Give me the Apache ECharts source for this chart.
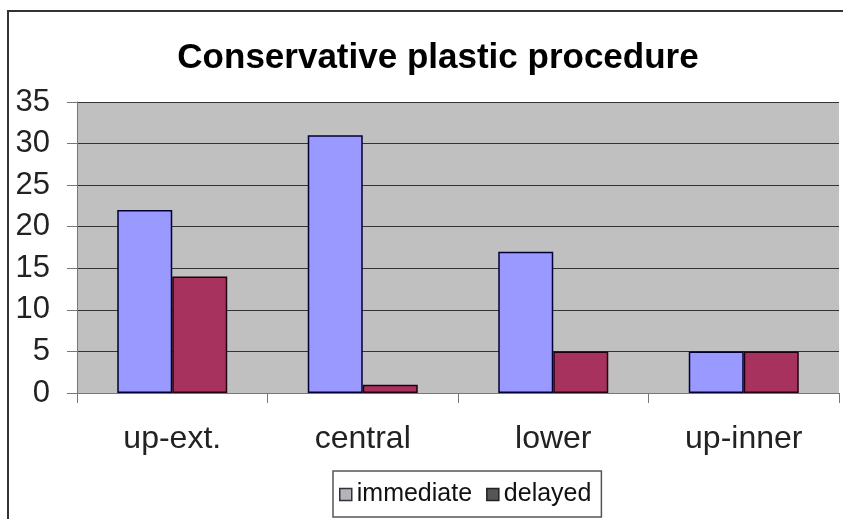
<!DOCTYPE html>
<html><head><meta charset="utf-8">
<script src="https://cdn.jsdelivr.net/npm/echarts@6/dist/echarts.min.js"></script>
<style>html,body{margin:0;padding:0;background:#fff}#c{width:843px;height:519px}</style>
</head><body><div id="c"></div>
<script>
const categories = ['up-ext.', 'central', 'lower', 'up-inner'];
const immediate = [22, 31, 17, 5];
const delayed = [14, 1, 5, 5];
const seriesNames = ['immediate', 'delayed'];

const chart = echarts.init(document.getElementById('c'));
chart.setOption({
  backgroundColor: '#fff',
  animation: false,
  graphic: [{
    type: 'rect', left: 7, top: 10, z: -1,
    shape: { width: 860, height: 540 },
    style: { fill: 'transparent', stroke: '#333', lineWidth: 2 }
  }],
  title: {
    text: 'Conservative plastic procedure',
    left: 433, textAlign: 'center', top: 36,
    textStyle: { fontFamily: 'Liberation Sans, Arial', fontWeight: 'bold', fontSize: 35, color: '#000' }
  },
  legend: {
    data: [
      { name: seriesNames[0], itemStyle: { color: '#b4b4bc', borderColor: '#333', borderWidth: 1.5 } },
      { name: seriesNames[1], itemStyle: { color: '#555', borderColor: '#222', borderWidth: 1.5 } }
    ],
    left: 333, top: 471,
    padding: [11, 10, 10, 6],
    itemWidth: 12, itemHeight: 12, itemGap: 14,
    borderColor: '#555', borderWidth: 1.5,
    icon: 'rect',
    textStyle: { fontFamily: 'Liberation Sans, Arial', fontSize: 25, color: '#111', padding: [0, 0, 0, 0] }
  },
  grid: { left: 77, right: 4, top: 102, bottom: 126, show: true, backgroundColor: '#c0c0c0', borderWidth: 0 },
  xAxis: {
    type: 'category', data: categories,
    axisLine: { lineStyle: { color: '#777', width: 1 } },
    axisTick: { show: true, length: 10, lineStyle: { color: '#777' } },
    axisLabel: { margin: 30, fontFamily: 'Liberation Sans, Arial', fontSize: 32, color: '#222' }
  },
  yAxis: {
    type: 'value', min: 0, max: 35, interval: 5,
    axisLine: { show: true, lineStyle: { color: '#777', width: 1 } },
    axisTick: { show: true, length: 10, lineStyle: { color: '#777' } },
    axisLabel: { margin: 27, fontFamily: 'Liberation Sans, Arial', fontSize: 31, color: '#222' },
    splitLine: { show: true, lineStyle: { color: '#333', width: 1 } }
  },
  series: [
    { name: seriesNames[0], type: 'bar', data: immediate, barWidth: 55, barGap: '0%',
      itemStyle: { color: '#9999ff', borderColor: '#000033', borderWidth: 1.5 } },
    { name: seriesNames[1], type: 'bar', data: delayed, barWidth: 55, barGap: '0%',
      itemStyle: { color: '#a8325e', borderColor: '#200010', borderWidth: 1.5 } }
  ]
});
</script></body></html>
